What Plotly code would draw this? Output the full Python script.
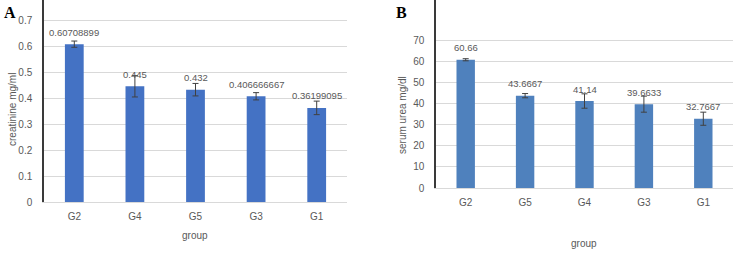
import plotly.graph_objects as go

# Panel A: creatinine
groups_a = ["G2", "G4", "G5", "G3", "G1"]
creat = [0.60708899, 0.445, 0.432, 0.406666667, 0.36199095]
creat_err = [0.012, 0.041, 0.024, 0.014, 0.026]
creat_labels = ["0.60708899", "0.445", "0.432", "0.406666667", "0.36199095"]
ticks_a = [0, 0.1, 0.2, 0.3, 0.4, 0.5, 0.6, 0.7]

# Panel B: serum urea
groups_b = ["G2", "G5", "G4", "G3", "G1"]
urea = [60.66, 43.6667, 41.14, 39.6633, 32.7667]
urea_err = [0.5, 1.0, 3.4, 3.8, 3.1]
urea_labels = ["60.66", "43.6667", "41.14", "39.6633", "32.7667"]
ticks_b = [0, 10, 20, 30, 40, 50, 60, 70]

W, H = 737, 255
TXT = "#595959"
GRID = "#D9D9D9"
FONT = "Liberation Sans"

fig = go.Figure()
fig.add_trace(go.Bar(
    x=groups_a, y=creat, width=0.31, marker=dict(color="#4472C4", line=dict(width=0)),
    error_y=dict(type="data", array=creat_err, color="#404040", thickness=1, width=3),
    xaxis="x", yaxis="y", showlegend=False))
fig.add_trace(go.Bar(
    x=groups_b, y=urea, width=0.31, marker=dict(color="#4F81BD", line=dict(width=0)),
    error_y=dict(type="data", array=urea_err, color="#404040", thickness=1, width=3),
    xaxis="x2", yaxis="y2", showlegend=False))

annots = []
for g, v, t in zip(groups_a, creat, creat_labels):
    annots.append(dict(x=g, y=v, text=t, xref="x", yref="y", showarrow=False,
                       yshift=12, font=dict(family=FONT, size=9.5, color=TXT)))
for g, v, t in zip(groups_b, urea, urea_labels):
    annots.append(dict(x=g, y=v, text=t, xref="x2", yref="y2", showarrow=False,
                       yshift=12, font=dict(family=FONT, size=9.5, color=TXT)))

def pa(x, y, text, size=10, angle=0, family=FONT, color=TXT):
    return dict(x=x/W, y=1-y/H, xref="paper", yref="paper", text=text, textangle=angle,
                showarrow=False, xanchor="center", yanchor="middle",
                font=dict(family=family, size=size, color=color))

annots += [
    pa(195, 235, "group"),
    pa(584, 243, "group"),
    pa(12, 110, "creatinine mg/ml", angle=-90),
    pa(403, 115, "serum urea mg/dl", angle=-90),
    pa(10, 12, "<b>A</b>", size=16, family="Liberation Serif", color="#000000"),
    pa(401, 12, "<b>B</b>", size=16, family="Liberation Serif", color="#000000"),
]

axfont = dict(family=FONT, size=10, color=TXT)
fig.update_layout(
    width=W, height=H, autosize=False, margin=dict(l=0, r=0, t=0, b=0, autoexpand=False),
    paper_bgcolor="white", plot_bgcolor="white",
    annotations=annots,
    xaxis=dict(domain=[44/W, 347/W], anchor="y", showline=True, linecolor=GRID, linewidth=1,
               showgrid=False, tickfont=axfont, ticks="", ticklabelstandoff=5),
    yaxis=dict(domain=[1-202/H, 1.0], anchor="x", range=[0, 0.7 + 20/260], tickvals=ticks_a,
               ticktext=[f"{v:g}" for v in ticks_a],
               showgrid=True, gridcolor=GRID, gridwidth=1, zeroline=False,
               showline=True, linecolor="#3a3a3a", linewidth=1.5, tickfont=axfont,
               ticks="", ticklabelstandoff=8),
    xaxis2=dict(domain=[436/W, 733/W], anchor="y2", showline=True, linecolor=GRID, linewidth=1,
                showgrid=False, tickfont=axfont, ticks="", ticklabelstandoff=5),
    yaxis2=dict(domain=[1-188/H, 1.0], anchor="x2", range=[0, 70 + 40/2.114], tickvals=ticks_b,
                showgrid=True, gridcolor=GRID, gridwidth=1, zeroline=False,
                showline=True, linecolor="#3a3a3a", linewidth=1.5, tickfont=axfont,
                ticks="", ticklabelstandoff=8),
)

fig.write_html("out.html", config={"responsive": False})
